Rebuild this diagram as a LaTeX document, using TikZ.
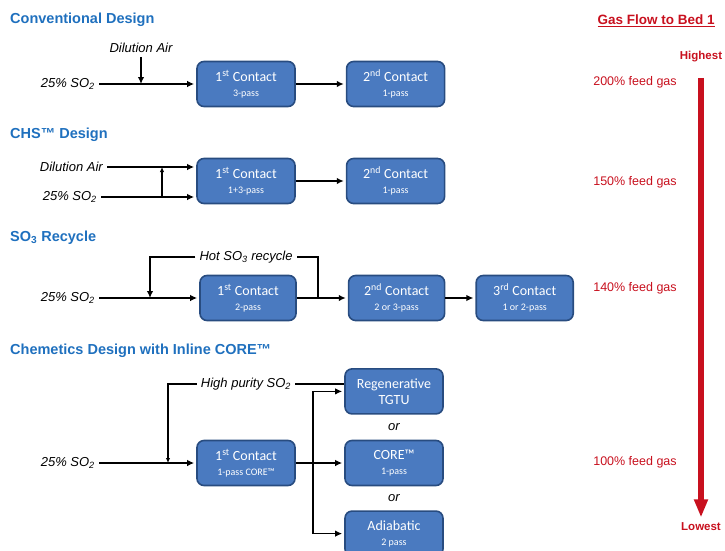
\documentclass[tikz,border=0pt]{standalone}
\usepackage{fontspec}
\setmainfont{Liberation Sans}
\newfontfamily\boxfont{Carlito}
\usepackage{xcolor}
\usetikzlibrary{arrows.meta,positioning,calc}
\definecolor{hdrblue}{RGB}{31,112,190}
\definecolor{boxblue}{RGB}{74,122,192}
\definecolor{boxline}{RGB}{40,76,128}
\definecolor{flowred}{RGB}{200,16,30}
\newcommand{\passtxt}[1]{{\fontsize{10}{12}\selectfont #1}}
\tikzset{
  cbox/.style  = {rectangle, rounded corners=7pt, draw=boxline, line width=1.6pt, fill=boxblue,
                  text=white, align=center, font=\boxfont\fontsize{14}{15}\selectfont,
                  minimum width=98pt, minimum height=45pt, inner sep=2pt},
  hdr/.style   = {anchor=west, text=hdrblue, font=\bfseries\fontsize{14.5}{17}\selectfont, inner sep=0pt},
  lbl/.style   = {font=\itshape\fontsize{13}{15}\selectfont, inner sep=4pt},
  rlbl/.style  = {text=flowred, font=\fontsize{12.5}{15}\selectfont},
  rbold/.style = {text=flowred, font=\bfseries\fontsize{11.5}{14}\selectfont},
  fl/.style    = {-{Latex[length=7pt,width=6.5pt]}, line width=1.5pt, shorten >=2pt},
  fls/.style   = {-{Latex[length=5pt,width=4.5pt]}, line width=1.5pt},
  ln/.style    = {line width=1.5pt},
  bigarr/.style = {-{Triangle[length=18pt,width=13pt]}, line width=5.5pt, flowred},
}
\begin{document}
\begin{tikzpicture}[x=1pt, y=-1pt, node distance=25pt and 50pt]
  \useasboundingbox (0,0) rectangle (725,550);
  % conventional design
  \node[hdr] (hconv) at (10,20) {Conventional Design};
  \node[cbox] (conv1) at (246,84) {1\textsuperscript{st} Contact\\\passtxt{3-pass}};
  \node[cbox, right=of conv1] (conv2) {2\textsuperscript{nd} Contact\\\passtxt{1-pass}};
  \node[lbl, anchor=east] (convin) at (99,84) {25\% SO\textsubscript{2}};
  \node[lbl] (convair) at (141,48) {Dilution Air};
  \draw[fl] (convin) -- (conv1);
  \draw[fl, shorten >=0pt] (convair) -- (convair |- convin);
  \draw[fl] (conv1) -- (conv2);
  \node[rlbl] (g200) at (635,82) {200\% feed gas};

  % CHS design
  \node[hdr] (hchs) at (10,135) {CHS™ Design};
  \node[cbox] (chs1) at (246,181) {1\textsuperscript{st} Contact\\\passtxt{1+3-pass}};
  \node[cbox, right=of chs1] (chs2) {2\textsuperscript{nd} Contact\\\passtxt{1-pass}};
  \node[lbl, anchor=east] (chsair) at (107,167) {Dilution Air};
  \node[lbl, anchor=east] (chsin) at (101,197) {25\% SO\textsubscript{2}};
  \coordinate (chsj) at (162,197);
  \draw[fl] (chsair) -- (chsair -| chs1.west);
  \draw[fl] (chsin) -- (chsin -| chs1.west);
  \draw[fls] (chsj) -- (chsj |- chsair);
  \draw[fl] (chs1) -- (chs2);
  \node[rlbl] (g150) at (635,182) {150\% feed gas};

  % SO3 recycle
  \node[hdr] (hrec) at (10,238) {SO\textsubscript{3} Recycle};
  \node[cbox, minimum width=96pt] (rec1) at (248,298) {1\textsuperscript{st} Contact\\\passtxt{2-pass}};
  \node[cbox, minimum width=96pt, right=51pt of rec1] (rec2) {2\textsuperscript{nd} Contact\\\passtxt{2 or 3-pass}};
  \node[cbox, minimum width=97pt, right=30pt of rec2] (rec3) {3\textsuperscript{rd} Contact\\\passtxt{1 or 2-pass}};
  \node[lbl, anchor=east] (recin) at (99,298) {25\% SO\textsubscript{2}};
  \node[lbl] (hot) at (246,257) {Hot SO\textsubscript{3} recycle};
  \coordinate (rectap) at (318,298);
  \coordinate (recj) at (150,298);
  \draw[fl] (recin) -- (rec1);
  \draw[fl] (rec1) -- (rec2);
  \draw[fl] (rec2) -- (rec3);
  \draw[ln] (rectap) |- (hot);
  \draw[fl, shorten >=0pt] (hot) -| (recj);
  \node[rlbl] (g140) at (635,288) {140\% feed gas};

  % Chemetics design
  \node[hdr] (hche) at (10,351) {Chemetics Design with Inline CORE™};
  \node[cbox] (che1) at (246,463) {1\textsuperscript{st} Contact\\\passtxt{1-pass CORE™}};
  \node[cbox] (core) at (394,463) {CORE™\\\passtxt{1-pass}};
  \node[cbox, above=of core] (regen) {Regenerative\\[1pt]TGTU};
  \node[cbox, below=24pt of core] (adia) {Adiabatic\\\passtxt{2 pass}};
  \node[lbl] (or1) at ($(regen.south)!0.5!(core.north)$) {or};
  \node[lbl] (or2) at ($(core.south)!0.5!(adia.north)$) {or};
  \node[lbl, anchor=east] (chein) at (99,463) {25\% SO\textsubscript{2}};
  \node[lbl] (hipur) at (246,384) {High purity SO\textsubscript{2}};
  \coordinate (chej) at (168,463);
  \coordinate (chesplit) at (313,463);
  \draw[fl] (chein) -- (che1);
  \draw[fl] (che1) -- (core);
  \draw[fl] (chesplit) |- (regen);
  \draw[fl] (chesplit) |- (adia);
  \draw[ln] (hipur) -- (hipur -| regen.west);
  \draw[fls] (hipur) -| (chej);
  \node[rlbl] (g100) at (635,462) {100\% feed gas};

  % gas flow scale
  \node[anchor=west, text=flowred, font=\bfseries\fontsize{13.5}{16}\selectfont] (gtitle) at (594,21) {\underline{Gas Flow to Bed 1}};
  \node[rbold] (hi) at (701,57) {Highest};
  \node[rbold] (lo) at (701,527) {Lowest};
  \draw[bigarr] ([yshift=-12pt]hi.south) -- ([yshift=2pt]lo.north);
\end{tikzpicture}
\end{document}
